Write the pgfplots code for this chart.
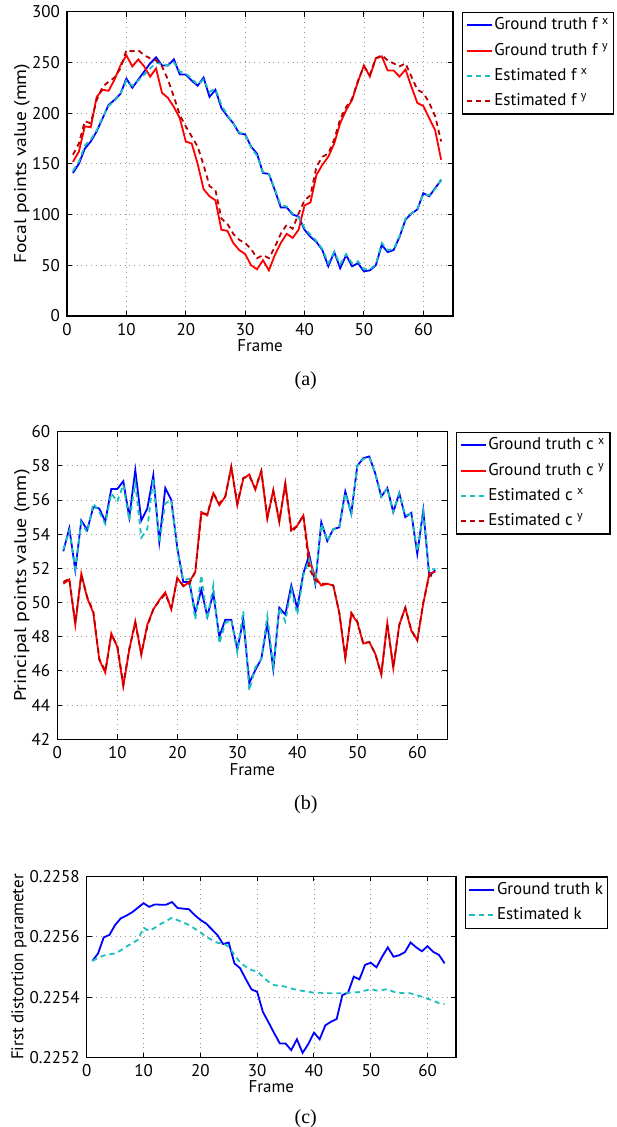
\documentclass[border=0pt]{standalone}
\usepackage{fontspec}
\setmainfont{PT Sans}
\newfontfamily\capfont{Liberation Serif}
\usepackage{pgfplots}
\usepackage{pgfplotstable}
\pgfplotsset{compat=1.18}
\definecolor{mblue}{rgb}{0,0,1}
\definecolor{mred}{rgb}{1,0,0}
\definecolor{mcyan}{rgb}{0.1,0.75,0.75}
\definecolor{mdred}{rgb}{0.72,0,0}

\pgfplotstableread{
f gx ex gy ey
1 141 143 152 159
2 150 152 162 170
3 165 168 187 192
4 172 174 186 190
5 182 183 216 213
6 195 196 223 226
7 208 207 222 231
8 213 212 233 235
9 219 219 247 244
10 234 232 257 262
11 225 227 246 261
12 233 232 253 262
13 241 238 246 257
14 249 244 236 254
15 255 250 244 252
16 247 248 220 246
17 247 247 215 233
18 253 250 206 216
19 238 241 195 198
20 238 239 172 187
21 232 234 170 177
22 227 228 150 167
23 235 233 125 149
24 216 221 118 128
25 223 224 114 124
26 205 208 85 96
27 197 198 84 91
28 190 190 72 81
29 180 181 65 75
30 179 179 61 72
31 167 166 50 66
32 160 158 46 57
33 141 142 55 60
34 140 140 45 57
35 124 125 60 68
36 107 109 72 81
37 107 108 81 90
38 100 101 77 86
39 98 97 85 101
40 85 87 109 114
41 78 80 112 119
42 73 74 139 147
43 65 66 149 157
44 49 52 157 160
45 63 63 170 174
46 47 51 190 194
47 60 61 203 206
48 49 52 213 214
49 52 54 231 232
50 44 46 247 246
51 45 46 236 238
52 50 51 254 254
53 70 72 256 257
54 63 65 242 252
55 65 66 242 249
56 78 79 236 246
57 95 96 243 249
58 101 101 226 236
59 105 106 210 223
60 121 120 207 220
61 118 119 195 210
62 126 125 183 197
63 134 135 154 172
}\tableA

\pgfplotstableread{
f gx ex gy ey
1 53.0 53.1 51.1 51.2
2 54.35 54.2 51.35 51.4
3 51.9 52.0 48.7 48.8
4 54.8 54.7 51.7 51.6
5 54.25 54.1 50.25 50.3
6 55.6 55.8 49.4 49.5
7 55.5 55.3 46.65 46.7
8 54.75 54.6 45.9 46.0
9 56.65 56.4 48.2 48.1
10 56.65 55.9 47.4 47.5
11 57.1 56.9 45.1 45.2
12 55.0 54.8 47.25 47.3
13 57.75 57.0 48.9 48.8
14 54.8 53.8 46.95 47.0
15 55.5 54.3 48.7 48.6
16 57.45 57.3 49.6 49.6
17 53.55 53.5 50.15 50.1
18 56.7 55.8 50.6 50.5
19 56.0 56.0 49.6 49.7
20 53.2 53.1 51.45 51.4
21 51.2 51.3 50.95 51.0
22 51.2 51.4 51.2 51.1
23 49.4 49.0 51.8 51.8
24 50.75 51.6 55.3 55.2
25 49.2 49.0 55.1 55.2
26 50.55 51.0 56.4 56.4
27 48.0 47.6 55.7 55.8
28 49.0 48.8 56.2 56.2
29 49.0 49.0 57.95 57.9
30 47.25 47.1 55.7 55.8
31 49.0 49.5 57.25 57.3
32 45.3 44.85 57.5 57.4
33 46.05 46.2 56.6 56.7
34 46.7 46.7 57.7 57.7
35 48.8 49.2 54.9 55.0
36 46.1 46.3 56.6 56.5
37 49.7 49.7 54.7 54.8
38 49.3 48.9 57.0 56.9
39 51.0 50.8 54.25 54.1
40 49.65 49.3 54.5 54.5
41 51.7 51.6 55.1 55.1
42 52.8 52.5 52.5 52.0
43 51.1 51.2 51.5 51.3
44 54.7 54.6 51.0 51.1
45 53.6 53.6 51.1 51.1
46 54.3 54.3 51.0 51.0
47 54.4 54.4 49.4 49.4
48 56.5 56.4 46.75 46.8
49 55.2 55.2 49.35 49.4
50 58.0 58.0 48.85 48.9
51 58.45 58.4 47.6 47.6
52 58.55 58.5 47.7 47.7
53 57.55 57.6 47.0 47.0
54 56.2 56.2 45.8 45.8
55 56.7 56.7 48.8 48.8
56 55.3 55.3 46.15 46.2
57 56.4 56.4 48.7 48.7
58 55.0 55.1 49.7 49.7
59 55.25 55.2 48.35 48.4
60 52.85 53.0 47.8 47.8
61 55.4 55.3 49.95 50.0
62 51.55 51.8 51.7 51.6
63 51.9 52.0 51.8 51.5
}\tableB

\pgfplotstableread{
f gk ek
1 2255.2 2255.2
2 2255.45 2255.3
3 2255.98 2255.38
4 2256.06 2255.42
5 2256.39 2255.45
6 2256.61 2255.55
7 2256.70 2255.68
8 2256.81 2255.78
9 2256.96 2255.9
10 2257.11 2256.3
11 2256.99 2256.19
12 2257.07 2256.3
13 2257.06 2256.42
14 2257.06 2256.52
15 2257.15 2256.63
16 2256.95 2256.55
17 2256.93 2256.47
18 2256.91 2256.39
19 2256.72 2256.27
20 2256.56 2256.15
21 2256.44 2256.0
22 2256.25 2255.9
23 2256.06 2255.8
24 2255.76 2255.78
25 2255.81 2255.67
26 2255.12 2255.40
27 2254.96 2255.15
28 2254.60 2255.01
29 2254.26 2254.9
30 2254.18 2254.85
31 2253.52 2254.68
32 2253.17 2254.51
33 2252.81 2254.4
34 2252.47 2254.38
35 2252.47 2254.35
36 2252.25 2254.29
37 2252.61 2254.24
38 2252.16 2254.21
39 2252.45 2254.18
40 2252.83 2254.15
41 2252.61 2254.15
42 2253.07 2254.13
43 2253.19 2254.13
44 2253.28 2254.13
45 2254.07 2254.13
46 2254.15 2254.15
47 2254.68 2254.16
48 2254.59 2254.17
49 2255.07 2254.22
50 2255.14 2254.27
51 2254.99 2254.22
52 2255.34 2254.24
53 2255.65 2254.27
54 2255.34 2254.18
55 2255.39 2254.15
56 2255.49 2254.13
57 2255.81 2254.13
58 2255.65 2254.07
59 2255.52 2254.02
60 2255.69 2253.95
61 2255.50 2253.89
62 2255.40 2253.80
63 2255.12 2253.78
}\tableC

\pgfplotsset{
 mystyle/.style={
  scale only axis,
  xmin=0, xmax=65, xtick={0,10,...,60},
  grid=major,
  major grid style={dotted, gray!80, line width=0.4pt},
  axis line style={line width=0.7pt},
  tick style={black, line width=0.5pt},
  major tick length=2.5pt,
  tick align=inside,
  tick label style={font=\fontsize{8.5}{10}\selectfont},
  label style={font=\fontsize{8.5}{10}\selectfont},
  /pgf/number format/assume math mode=true,
  xlabel={Frame},
  legend cell align=left,
  legend style={draw=black, line width=0.7pt, anchor=north west,
    font=\fontsize{8.5}{10}\selectfont, inner sep=1.5pt, row sep=2.5pt,
    nodes={inner sep=0.8pt, text height=6.5pt, text depth=2pt}},
  legend image code/.code={\draw[##1, line width=1pt] (0pt,0pt) -- (12.5pt,0pt);},
  every axis plot/.append style={line width=0.9pt},
  mydash/.style={dash pattern=on 2.6pt off 2pt},
 }
}

\begin{document}
\begin{tikzpicture}
\useasboundingbox (0,0) rectangle (308pt,563.5pt);

% (a)
\begin{axis}[mystyle,
  at={(33.5pt,405.5pt)}, anchor=south west,
  width=193pt, height=152.15pt,
  ymin=0, ymax=300, ytick={0,50,...,300},
  ylabel={\scalebox{1.15}[1]{Focal points value (mm)}},
  ylabel style={at={(axis description cs:-0.117,0.5)}, anchor=center},
  xlabel style={at={(axis description cs:0.5,-0.098)}, anchor=center},
  legend style={at={(rel axis cs:1.0233,1)}},
]
\addplot[mblue, solid] table[x=f, y=gx] {\tableA};
\addlegendentry{Ground truth f \textsuperscript{x}}
\addplot[mred, solid] table[x=f, y=gy] {\tableA};
\addlegendentry{Ground truth f \textsuperscript{y}}
\addplot[mcyan, mydash] table[x=f, y=ex] {\tableA};
\addlegendentry{Estimated f \textsuperscript{x}}
\addplot[mdred, mydash] table[x=f, y=ey] {\tableA};
\addlegendentry{Estimated f \textsuperscript{y}}
\end{axis}

% (b)
\begin{axis}[mystyle,
  at={(28.65pt,193.85pt)}, anchor=south west,
  width=195pt, height=153.8pt,
  ymin=42, ymax=60, ytick={42,44,...,60},
  ylabel={\scalebox{1.17}[1]{Principal points value (mm)}},
  ylabel style={at={(axis description cs:-0.0905,0.5)}, anchor=center},
  xlabel style={at={(axis description cs:0.5,-0.1)}, anchor=center},
  legend style={at={(rel axis cs:1.0223,1)}},
]
\addplot[mblue, solid] table[x=f, y=gx] {\tableB};
\addlegendentry{Ground truth c \textsuperscript{x}}
\addplot[mred, solid] table[x=f, y=gy] {\tableB};
\addlegendentry{Ground truth c \textsuperscript{y}}
\addplot[mcyan, mydash] table[x=f, y=ex] {\tableB};
\addlegendentry{Estimated c \textsuperscript{x}}
\addplot[mdred, mydash] table[x=f, y=ey] {\tableB};
\addlegendentry{Estimated c \textsuperscript{y}}
\end{axis}

% (c)
\begin{axis}[mystyle,
  at={(43.35pt,34.65pt)}, anchor=south west,
  width=184.65pt, height=90.7pt,
  ymin=2252, ymax=2258, ytick={2252,2254,2256,2258},
  yticklabels={0.2252,0.2254,0.2256,0.2258},
  ylabel={First distortion parameter},
  ylabel style={at={(axis description cs:-0.183,0.5)}, anchor=center},
  xlabel style={at={(axis description cs:0.5,-0.16)}, anchor=center},
  legend style={at={(rel axis cs:1.0236,1)}},
]
\addplot[mblue, solid] table[x=f, y=gk] {\tableC};
\addlegendentry{Ground truth k}
\addplot[mcyan, mydash] table[x=f, y=ek] {\tableC};
\addlegendentry{Estimated k}
\end{axis}

\node[font=\capfont\fontsize{10}{12}\selectfont] at (152.9pt,373pt) {(a)};
\node[font=\capfont\fontsize{10}{12}\selectfont] at (152.9pt,161pt) {(b)};
\node[font=\capfont\fontsize{10}{12}\selectfont] at (152.9pt,4pt) {(c)};
\end{tikzpicture}
\end{document}
